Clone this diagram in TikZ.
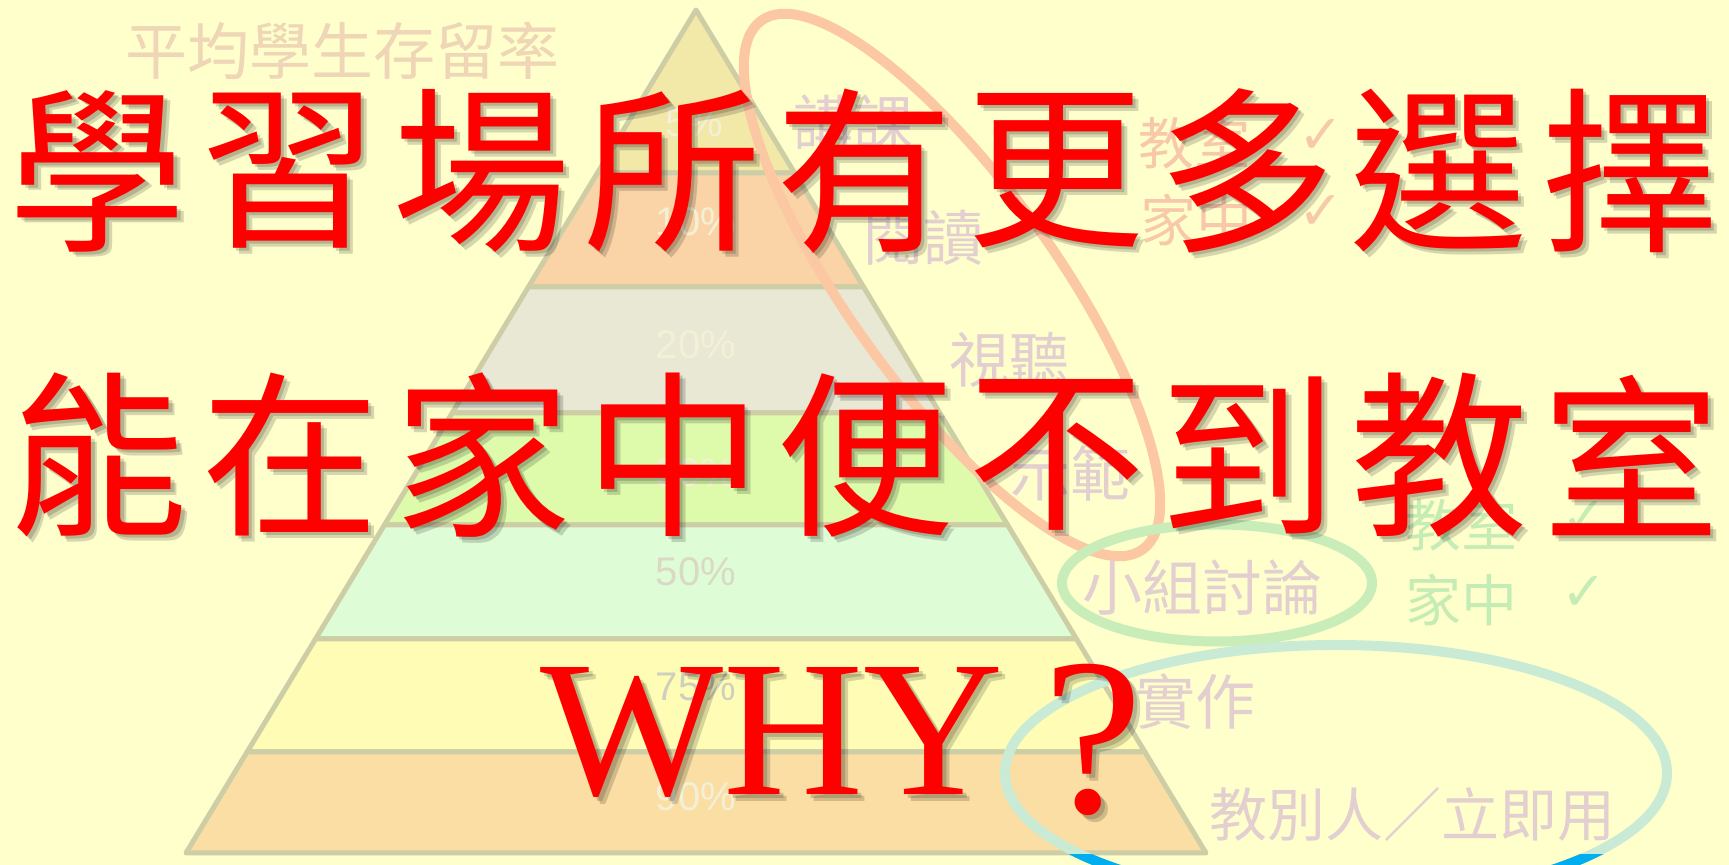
\documentclass[tikz,border=0pt]{standalone}
\usepackage{fontspec}
\newfontfamily\cjk{Noto Sans CJK TC}
\newfontfamily\tnr{Liberation Serif}
\newfontfamily\ari{Liberation Sans}
\newfontfamily\djv{DejaVu Sans}
\definecolor{bgc}{HTML}{FFFFCC}
\definecolor{pline}{HTML}{CDCDA6}
\definecolor{bA}{HTML}{F2E8A8}
\definecolor{bB}{HTML}{FAD3A6}
\definecolor{bC}{HTML}{E8E8D5}
\definecolor{bD}{HTML}{DDFBAB}
\definecolor{bE}{HTML}{DEFCD5}
\definecolor{bF}{HTML}{FFFDB5}
\definecolor{bG}{HTML}{FADEA3}
\definecolor{sidec}{HTML}{E3CFCF}
\definecolor{titlec}{HTML}{EFD6B6}
\definecolor{orc}{HTML}{FCC8A4}
\definecolor{grc}{HTML}{C8EDB8}
\definecolor{grt}{HTML}{C6ECB6}
\definecolor{tlc}{HTML}{C9EBD6}
\definecolor{blc}{HTML}{00AEEF}
\definecolor{ort}{HTML}{F8C8AA}
\definecolor{pctw}{HTML}{F4F0D6}
\definecolor{pctg}{HTML}{CFCFBE}
\begin{document}
\begin{tikzpicture}[x=0.5pt,y=0.5pt,
  band/.style={draw=pline,line width=2.5pt,line join=round},
  pct/.style={font=\ari\fontsize{20pt}{20pt}\selectfont,inner sep=0pt,text=pctw},
  side/.style={font=\cjk\fontsize{30pt}{30pt}\selectfont,anchor=west,inner sep=0pt,text=sidec},
  smallck/.style={font=\cjk\fontsize{28pt}{28pt}\selectfont,anchor=west,inner sep=0pt},
  ck/.style={font=\djv\fontsize{27pt}{27pt}\selectfont,inner sep=0pt},
  oval/.style={line width=5pt},
  bigc/.style={font=\cjk\fontsize{89pt}{89pt}\selectfont,inner sep=0pt,text=red},
  bigs/.style={font=\cjk\fontsize{89pt}{89pt}\selectfont,inner sep=0pt,text=black,opacity=0.16},
  why/.style={font=\tnr\fontsize{97pt}{97pt}\selectfont,inner sep=0pt,anchor=base west},
  qm/.style={font=\tnr\fontsize{112pt}{112pt}\selectfont,inner sep=0pt,anchor=base}
]
\useasboundingbox (0,0) rectangle (1729,865);
\fill[bgc] (0,0) rectangle (1729,865);

% pyramid bands
\filldraw[band,fill=bA] (696,855) -- (794.6,692) -- (597.4,692) -- cycle;
\filldraw[band,fill=bB] (597.4,692) -- (794.6,692) -- (863.6,578) -- (528.4,578) -- cycle;
\filldraw[band,fill=bC] (528.4,578) -- (863.6,578) -- (939.8,452) -- (452.2,452) -- cycle;
\filldraw[band,fill=bD] (452.2,452) -- (939.8,452) -- (1007.6,340) -- (384.4,340) -- cycle;
\filldraw[band,fill=bE] (384.4,340) -- (1007.6,340) -- (1076.5,226) -- (315.5,226) -- cycle;
\filldraw[band,fill=bF] (315.5,226) -- (1076.5,226) -- (1144.9,113) -- (247.1,113) -- cycle;
\filldraw[band,fill=bG] (247.1,113) -- (1144.9,113) -- (1206,12) -- (186,12) -- cycle;

% percentages
\node[pct] (p5) at (694,742) {5\%};
\node[pct] (p10) at (696,643) {10\%};
\node[pct] (p20) at (696,520) {20\%};
\node[pct] (p30) at (696,392) {30\%};
\node[pct,text=pctg!70!pctw] (p50) at (696,293) {50\%};
\node[pct,text=pctg] (p75) at (696,178) {75\%};
\node[pct] (p90) at (696,68) {90\%};

% title
\node[side,text=titlec,font=\cjk\fontsize{31pt}{31pt}\selectfont] (title) at (125,814) {平均學生存留率};

% side labels
\node[side] (l1) at (793,742) {講課};
\node[side] (l2) at (863,627) {閱讀};
\node[side] (l3) at (949,505) {視聽};
\node[side] (l4) at (1010,392) {示範};
\node[side] (l5) at (1082,277) {小組討論};
\node[side] (l6) at (1135,163) {實作};
\node[side,font=\cjk\fontsize{29pt}{29pt}\selectfont] (l7) at (1209,51) {教別人／立即用};

% orange check list
\node[smallck,text=ort] (o1) at (1138,722) {教室};
\node[ck,text=ort] (o1c) at (1321,728) {✓};
\node[smallck,text=ort] (o2) at (1140,645) {家中};
\node[ck,text=ort] (o2c) at (1321,652) {✓};
% green check list
\node[smallck,text=grt] (g1) at (1405,340) {教室};
\node[ck,text=grt] (g1c) at (1584,346) {✓};
\node[smallck,text=grt] (g2) at (1405,265) {家中};
\node[ck,text=grt] (g2c) at (1584,271) {✓};

% ovals
\draw[oval,draw=orc,rotate around={-54.2:(952,580)}] (952,580) ellipse [x radius=326,y radius=103];
\draw[oval,draw=grc] (1217,282) ellipse [x radius=155,y radius=58.5];
\draw[oval,draw=tlc] (1336,92) ellipse [x radius=331,y radius=128];
\begin{scope}
\clip (0,0) rectangle (1729,10);
\draw[oval,draw=blc] (1336,92) ellipse [x radius=331,y radius=128];
\end{scope}

% big red text
\foreach \c [count=\i from 0] in {學,習,場,所,有,更,多,選,擇} {
  \node[bigs] (s1\i) at ({98+191.5*\i+6},{694-6}) {\c};
  \node[bigs] (t1\i) at ({98+191.5*\i+3},{694-3}) {\c};
  \node[bigc] (r1\i) at ({98+191.5*\i},694) {\c};
}
\foreach \c [count=\i from 0] in {能,在,家,中,便,不,到,教,室} {
  \node[bigs] (s2\i) at ({99+191.5*\i+6},{410-6}) {\c};
  \node[bigs] (t2\i) at ({99+191.5*\i+3},{410-3}) {\c};
  \node[bigc] (r2\i) at ({99+191.5*\i},410) {\c};
}
\node[why,text=black,opacity=0.16] (whys) at (547,63) {WHY};
\node[why,text=black,opacity=0.16] (whyt) at (544,66) {WHY};
\node[why,text=red] (why) at (540,70) {WHY};
\node[qm,text=black,opacity=0.16] (qms) at (1100,45) {?};
\node[qm,text=black,opacity=0.16] (qmt) at (1097,48) {?};
\node[qm,text=red] (qm) at (1093,52) {?};
\end{tikzpicture}
\end{document}
